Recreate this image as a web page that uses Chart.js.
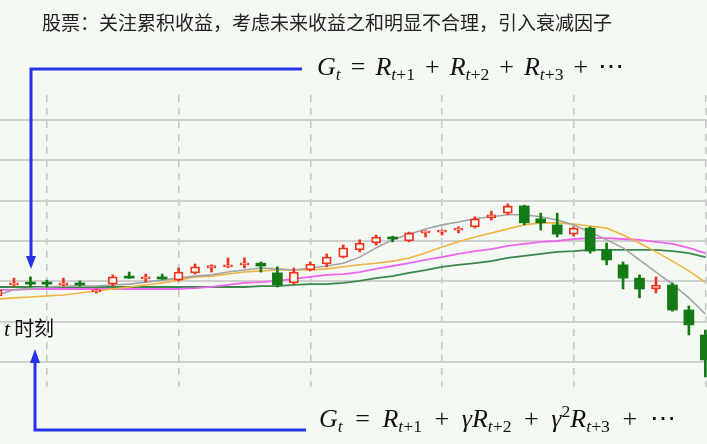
<!DOCTYPE html>
<html><head><meta charset="utf-8">
<script src="https://cdn.jsdelivr.net/npm/chart.js@4.4.1/dist/chart.umd.min.js"></script>
<style>
html,body{margin:0;padding:0;background:#f5f9f3;}
#wrap{position:relative;width:707px;height:444px;overflow:hidden;background:#f5f9f3;}
#c{position:absolute;left:0;top:0;}
.title{position:absolute;left:42px;top:9px;font-family:"Noto Sans CJK SC";font-size:19px;line-height:26px;color:#222;white-space:nowrap;}
.f{position:absolute;font-family:"Liberation Serif";font-size:26px;line-height:30px;color:#111;white-space:nowrap;}
.f i{font-style:italic}
.f sub{font-size:0.68em;vertical-align:-0.3em;line-height:0;word-spacing:0}
.f sup{font-size:0.68em;vertical-align:0.55em;line-height:0}
.tl{position:absolute;left:4px;top:313px;line-height:30px;color:#111;white-space:nowrap;}
.tl i{font-family:"Liberation Serif";font-size:22px;}
.tl span{font-family:"Noto Sans CJK SC";font-size:20px;}
svg{position:absolute;left:0;top:0;}
</style>
</head><body>
<div id="wrap">
<canvas id="c" width="707" height="444"></canvas>
<div class="title">股票：关注累积收益，考虑未来收益之和明显不合理，引入衰减因子</div>
<div class="f" style="left:317px;top:52px;word-spacing:3.5px;"><i>G</i><sub><i>t</i></sub> = <i>R</i><sub><i>t</i>+1</sub> + <i>R</i><sub><i>t</i>+2</sub> + <i>R</i><sub><i>t</i>+3</sub> + ⋯</div>
<div class="f" style="left:319px;top:404px;word-spacing:6px;"><i>G</i><sub><i>t</i></sub> = <i>R</i><sub><i>t</i>+1</sub> + <i>γR</i><sub><i>t</i>+2</sub> + <i>γ</i><sup>2</sup><i>R</i><sub><i>t</i>+3</sub> + ⋯</div>
<div class="tl"><i>t</i> <span>时刻</span></div>
<svg width="707" height="444">
  <polyline points="302,69 31,69 31,258" fill="none" stroke="#2633e6" stroke-width="3"/>
  <polygon points="26,256 36,256 31,269" fill="#2633e6"/>
  <polyline points="306,430 35,430 35,361" fill="none" stroke="#2633e6" stroke-width="3"/>
  <polygon points="30,363 40,363 35,349" fill="#2633e6"/>
</svg>
</div>
<script>
const days = [0,1,2,3,4,5,6,7,8,9,10,11,12,13,14,15,16,17,18,19,20,21,22,23,24,25,26,27,28,29,30,31,32,33,34,35,36,37,38,39,40,41,42,43];
const opens  = [11.64,11.91,11.98,11.98,11.91,11.96,11.74,11.93,12.12,12.06,12.11,12.03,12.21,12.33,12.36,12.41,12.45,12.21,11.96,12.28,12.43,12.60,12.78,12.95,13.09,13.00,13.20,13.22,13.27,13.35,13.58,13.69,13.87,13.55,13.40,13.17,13.32,12.78,12.41,12.08,11.81,11.91,11.29,10.67];
const highs  = [11.88,12.08,12.11,12.03,12.08,12.01,11.81,12.16,12.23,12.18,12.18,12.33,12.43,12.41,12.58,12.58,12.48,12.36,12.33,12.48,12.68,12.90,13.03,13.15,13.12,13.22,13.25,13.27,13.35,13.60,13.74,13.92,13.89,13.69,13.69,13.35,13.35,12.95,12.48,12.16,12.11,11.96,11.39,10.79];
const lows   = [11.54,11.88,11.86,11.86,11.88,11.88,11.71,11.88,12.07,11.98,12.05,12.01,12.18,12.23,12.34,12.33,12.23,11.86,11.93,12.26,12.36,12.58,12.73,12.90,12.98,12.98,13.10,13.15,13.20,13.32,13.52,13.65,13.40,13.27,13.10,13.12,12.70,12.41,11.81,11.59,11.71,11.26,10.67,9.63];
const closes = [11.79,11.96,11.93,11.93,11.96,11.91,11.79,12.11,12.08,12.11,12.06,12.23,12.36,12.39,12.39,12.45,12.38,11.91,12.23,12.43,12.60,12.83,12.95,13.10,13.05,13.20,13.25,13.27,13.31,13.55,13.65,13.87,13.45,13.45,13.17,13.32,12.75,12.53,12.08,11.81,11.91,11.29,10.92,10.05];
const ma5  = [11.66,11.79,11.83,11.86,11.88,11.88,11.88,11.91,11.93,11.98,12.03,12.08,12.13,12.16,12.23,12.28,12.33,12.31,12.28,12.33,12.38,12.45,12.60,12.83,13.03,13.17,13.30,13.40,13.47,13.55,13.60,13.65,13.65,13.60,13.52,13.40,13.22,13.03,12.83,12.53,12.23,11.93,11.59,11.19];
const ma10 = [11.56,11.59,11.61,11.64,11.66,11.71,11.76,11.81,11.86,11.91,11.96,12.03,12.11,12.13,12.18,12.23,12.26,12.28,12.28,12.28,12.31,12.36,12.41,12.45,12.50,12.58,12.70,12.85,12.98,13.10,13.20,13.30,13.40,13.45,13.45,13.42,13.37,13.32,13.15,12.95,12.73,12.50,12.26,11.98];
const ma20 = [11.79,11.79,11.81,11.81,11.81,11.81,11.81,11.81,11.81,11.81,11.81,11.81,11.83,11.86,11.91,11.96,11.98,12.01,12.06,12.11,12.16,12.18,12.23,12.31,12.38,12.45,12.53,12.60,12.68,12.75,12.80,12.88,12.93,12.98,13.00,13.05,13.07,13.07,13.05,13.03,12.98,12.93,12.83,12.70];
const ma30 = [11.86,11.86,11.86,11.86,11.86,11.86,11.86,11.86,11.86,11.86,11.86,11.86,11.86,11.86,11.86,11.86,11.88,11.88,11.91,11.93,11.93,11.96,12.01,12.08,12.13,12.21,12.28,12.36,12.41,12.45,12.50,12.58,12.63,12.68,12.73,12.75,12.78,12.78,12.78,12.78,12.78,12.75,12.70,12.60];
const yTicks = [10,11,12,13,14,15,16];
const xTicks = [3,11,19,27,35,43];

const RED = '#f3321e', GREEN = '#137a16', BG = '#f5f9f3';
const isUp = i => closes[i] >= opens[i];
const upBodies = days.filter(isUp).map(i => ({x: i, y: [opens[i], closes[i]]}));
const downBodies = days.filter(i => !isUp(i)).map(i => ({x: i, y: [opens[i], closes[i]]}));
const wicks = days.map(i => ({x: i, y: [lows[i], highs[i]]}));
const line = (arr) => days.map(i => ({x: i, y: arr[i]}));

new Chart(document.getElementById('c'), {
  type: 'bar',
  data: {
    datasets: [
      {type:'bar', data: upBodies, backgroundColor: BG, borderColor: RED, borderWidth: 1.8, borderSkipped: false, barThickness: 9, minBarLength: 2, grouped: false, order: 0},
      {type:'bar', data: downBodies, backgroundColor: GREEN, borderColor: GREEN, borderWidth: 0, borderSkipped: false, barThickness: 10, minBarLength: 2, grouped: false, order: 0},
      {type:'bar', data: wicks, backgroundColor: days.map(i => isUp(i) ? RED : GREEN), borderWidth: 0, barThickness: 2, grouped: false, order: 1},
      {type:'line', data: line(ma5), borderColor: '#a3a3a3', borderWidth: 1.6, pointRadius: 0, tension: 0, order: 2},
      {type:'line', data: line(ma10), borderColor: '#f0b440', borderWidth: 1.6, pointRadius: 0, tension: 0, order: 2},
      {type:'line', data: line(ma20), borderColor: '#ee66ee', borderWidth: 1.8, pointRadius: 0, tension: 0, order: 2},
      {type:'line', data: line(ma30), borderColor: '#3a874a', borderWidth: 1.8, pointRadius: 0, tension: 0, order: 2}
    ]
  },
  options: {
    responsive: false,
    animation: false,
    devicePixelRatio: 1,
    layout: {padding: {top: 95, bottom: 57, left: 0, right: 0}},
    plugins: {legend: {display: false}, tooltip: {enabled: false}},
    scales: {
      x: {type: 'linear', min: 0.15, max: 43.1, offset: false,
          afterBuildTicks: s => { s.ticks = xTicks.map(v => ({value: v})); },
          ticks: {display: false},
          grid: {color: '#c6c6c6', lineWidth: 1.5, drawTicks: false, offset: false},
          border: {display: false, dash: [7, 6]}},
      y: {type: 'linear', min: 9.38, max: 16.62,
          afterBuildTicks: s => { s.ticks = yTicks.map(v => ({value: v})); },
          ticks: {display: false},
          grid: {color: '#cfcfcf', lineWidth: 2, drawTicks: false},
          border: {display: false}}
    }
  }
});
</script>
</body></html>
